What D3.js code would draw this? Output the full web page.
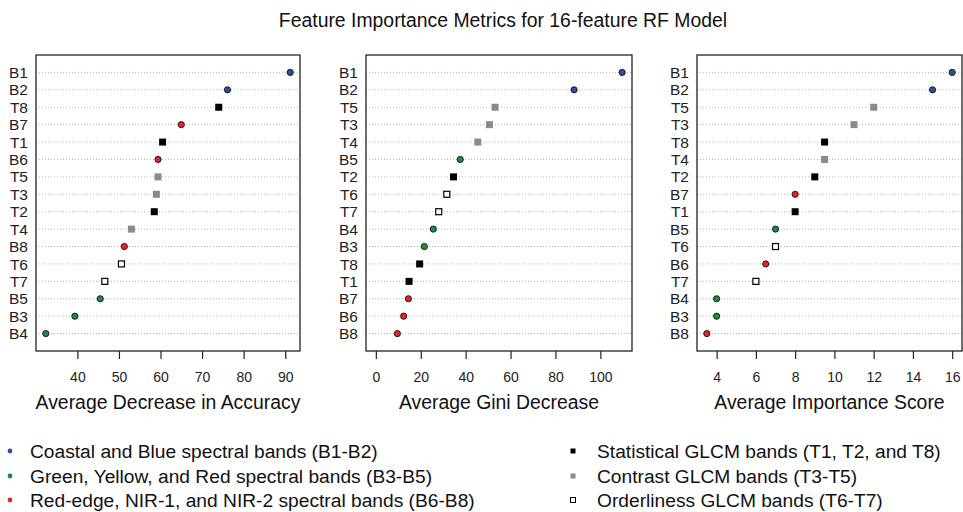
<!DOCTYPE html>
<html><head><meta charset="utf-8">
<script src="https://cdn.jsdelivr.net/npm/d3@7"></script>
<style>body{margin:0;background:#fff}svg{display:block;font-family:"Liberation Sans",Arial,sans-serif}</style>
</head><body>
<svg id="c" width="963" height="512"></svg>
<script>
// ---- data ----
const title = "Feature Importance Metrics for 16-feature RF Model";
const accLabels = ["B1","B2","T8","B7","T1","B6","T5","T3","T2","T4","B8","T6","T7","B5","B3","B4"];
const accValues = [91.2,76.1,74.0,65.0,60.5,59.4,59.4,59.0,58.5,53.0,51.3,50.6,46.6,45.5,39.4,32.4];
const giniLabels = ["B1","B2","T5","T3","T4","B5","T2","T6","T7","B4","B3","T8","T1","B7","B6","B8"];
const giniValues = [109.7,88.3,53.1,50.6,45.4,37.6,34.6,31.6,28.0,25.6,21.6,19.5,14.8,14.5,12.4,9.6];
const scoreLabels = ["B1","B2","T5","T3","T8","T4","T2","B7","T1","B5","T6","B6","T7","B4","B3","B8"];
const scoreValues = [16,15,12,11,9.5,9.5,9,8,8,7,7,6.5,6,4,4,3.5];
const accTicks = [40,50,60,70,80,90];
const giniTicks = [0,20,40,60,80,100];
const scoreTicks = [4,6,8,10,12,14,16];
const axisTitles = ["Average Decrease in Accuracy","Average Gini Decrease","Average Importance Score"];
const groupNames = ["blue","green","red","stat","contrast","order"];
const groupMembers = [["B1","B2"],["B3","B4","B5"],["B6","B7","B8"],["T1","T2","T8"],["T3","T4","T5"],["T6","T7"]];
const legendTexts = ["Coastal and Blue spectral bands (B1-B2)","Green, Yellow, and Red spectral bands (B3-B5)","Red-edge, NIR-1, and NIR-2 spectral bands (B6-B8)","Statistical GLCM bands (T1, T2, and T8)","Contrast GLCM bands (T3-T5)","Orderliness GLCM bands (T6-T7)"];

// ---- styles ----
const style = {
  blue:{shape:"circle",fill:"#2f4f9f",stroke:"#111"},
  green:{shape:"circle",fill:"#1e8a3e",stroke:"#111"},
  red:{shape:"circle",fill:"#e8212a",stroke:"#111"},
  stat:{shape:"square",fill:"#000",stroke:"none"},
  contrast:{shape:"square",fill:"#8a8a8a",stroke:"none"},
  order:{shape:"square",fill:"#fff",stroke:"#000"}
};
function groupOf(l){for(let i=0;i<groupMembers.length;i++){if(groupMembers[i].includes(l))return groupNames[i];}}

const svg = d3.select("#c");
svg.append("text").attr("x",503).attr("y",27).attr("text-anchor","middle")
  .attr("font-size",19.4).attr("fill","#111").text(title);

const panels = [
  {labels:accLabels,values:accValues,ticks:accTicks,x0:36,x1:300,dom:null},
  {labels:giniLabels,values:giniValues,ticks:giniTicks,x0:366,x1:632,dom:"zero"},
  {labels:scoreLabels,values:scoreValues,ticks:scoreTicks,x0:697,x1:962,dom:null}
];
const boxTop=55,boxBottom=351;
const y = d3.scaleLinear().domain([0,17]).range([boxBottom,boxTop]);

panels.forEach((p,pi)=>{
  let lo = p.dom==="zero"?0:d3.min(p.values), hi=d3.max(p.values);
  const pad=(hi-lo)*0.04;
  const x = d3.scaleLinear().domain([lo-pad,hi+pad]).range([p.x0,p.x1]);
  const g = svg.append("g");
  const n=p.labels.length;
  // grid lines
  g.selectAll("line.grid").data(p.labels).join("line")
    .attr("x1",p.x0).attr("x2",p.x1)
    .attr("y1",(d,i)=>y(n-i)).attr("y2",(d,i)=>y(n-i))
    .attr("stroke","#b5b5b5").attr("stroke-width",1).attr("stroke-dasharray","1,2");
  // row labels
  g.selectAll("text.lab").data(p.labels).join("text")
    .attr("x",p.x0-8).attr("y",(d,i)=>y(n-i)).attr("dy","0.36em")
    .attr("text-anchor","end").attr("font-size",15.5).attr("fill","#222").text(d=>d);
  // box
  g.append("rect").attr("x",p.x0).attr("y",boxTop).attr("width",p.x1-p.x0).attr("height",boxBottom-boxTop)
    .attr("fill","none").attr("stroke","#222").attr("stroke-width",1.3);
  // axis
  const ax = g.append("g").attr("transform",`translate(0,${boxBottom})`)
    .call(d3.axisBottom(x).tickValues(p.ticks).tickSize(8).tickPadding(13).tickFormat(d3.format("d")));
  ax.select(".domain").remove();
  ax.selectAll("line").attr("stroke","#222").attr("stroke-width",1.2);
  ax.selectAll("text").attr("font-size",14).attr("fill","#222").attr("font-family","Liberation Sans,Arial,sans-serif");
  // axis title
  g.append("text").attr("x",(p.x0+p.x1)/2).attr("y",409).attr("text-anchor","middle")
    .attr("font-size",19.4).attr("fill","#111").text(axisTitles[pi]);
  // points
  p.labels.forEach((l,i)=>{
    const s=style[groupOf(l)], cx=x(p.values[i]), cy=y(n-i);
    if(s.shape==="circle"){
      g.append("circle").attr("cx",cx).attr("cy",cy).attr("r",3.1).attr("fill",s.fill).attr("stroke",s.stroke).attr("stroke-width",0.9);
    } else {
      const sz = s.stroke==="none"?7:6;
      g.append("rect").attr("x",cx-sz/2).attr("y",cy-sz/2).attr("width",sz).attr("height",sz)
        .attr("fill",s.fill).attr("stroke",s.stroke).attr("stroke-width",1.2);
    }
  });
});

// legend
const legY=[451,476,500];
legendTexts.forEach((t,i)=>{
  const col = i<3?0:1, row=i%3;
  const mx = col===0?10:573, tx = col===0?30:597, cy=legY[row];
  const s = style[groupNames[i]];
  if(s.shape==="circle"){
    svg.append("circle").attr("cx",mx).attr("cy",cy).attr("r",2.4).attr("fill",s.fill).attr("stroke","none");
  } else {
    const sz=5;
    svg.append("rect").attr("x",mx-sz/2).attr("y",cy-sz/2).attr("width",sz).attr("height",sz)
      .attr("fill",s.fill).attr("stroke",s.stroke).attr("stroke-width",1);
  }
  svg.append("text").attr("x",tx).attr("y",cy).attr("dy","0.36em").attr("font-size",19.2).attr("fill","#111").text(t);
});
</script>
</body></html>
